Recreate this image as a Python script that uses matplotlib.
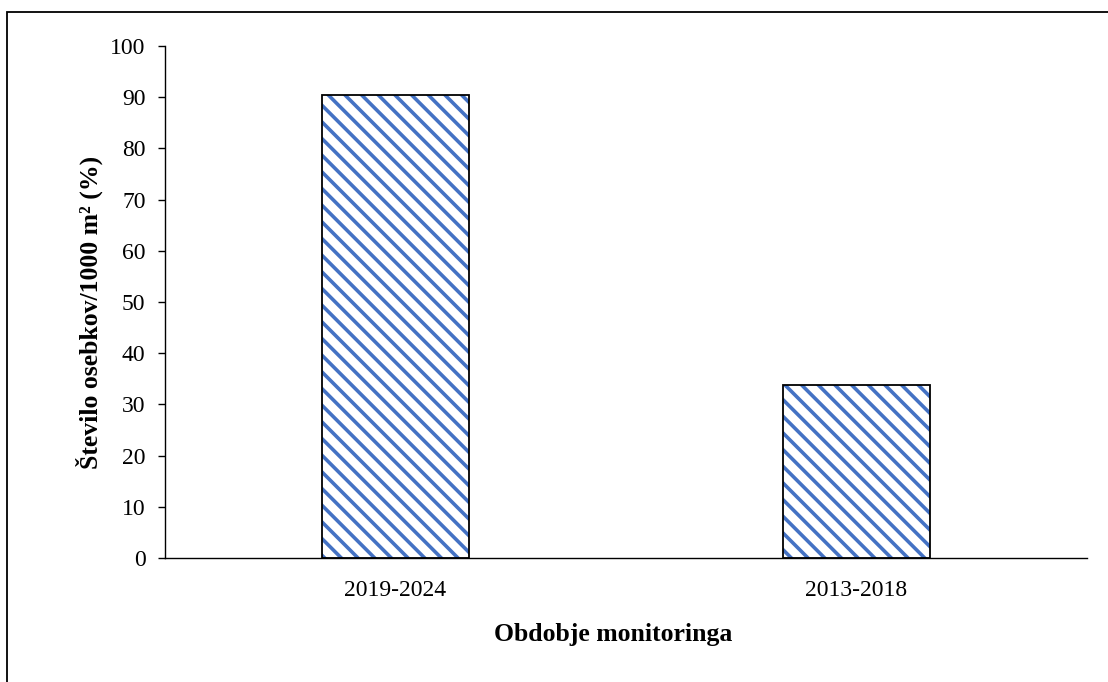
import matplotlib.pyplot as plt
from matplotlib.patches import Rectangle

# data
periods = ["2019-2024", "2013-2018"]
values = [90.5, 33.7]

plt.rcParams['font.family'] = ['Liberation Serif', 'DejaVu Serif']
plt.rcParams['hatch.linewidth'] = 2.6

fig = plt.figure(figsize=(11.08, 6.82), dpi=100)
ax = fig.add_axes([0.1489, 0.1818, 0.8321, 0.7508])

x = range(len(periods))
# hatch in blue, outline in black
ax.bar(x, values, width=0.317, color='white', edgecolor='#4472C4',
       hatch='\\\\', linewidth=0)
ax.bar(x, values, width=0.317, fill=False, edgecolor='black', linewidth=1.3)

ax.set_xlim(-0.5, 1.5)
ax.set_ylim(0, 100)
ax.set_yticks(range(0, 101, 10))
ax.set_xticks(list(x))
ax.set_xticklabels(periods)
ax.tick_params(axis='x', length=0, labelsize=17, pad=16)
ax.tick_params(axis='y', length=5, width=1, labelsize=17, pad=9)
for side in ['top', 'right']:
    ax.spines[side].set_visible(False)
ax.spines['left'].set_linewidth(1)
ax.spines['bottom'].set_linewidth(1)

ax.set_xlabel("Obdobje monitoringa", fontsize=18.5, fontweight='bold',
              labelpad=16, x=0.486)
ax.set_ylabel("Število osebkov/1000 m² (%)", fontsize=18.5, fontweight='bold',
              labelpad=5, y=0.48)

# outer frame
fig.patches.append(Rectangle((0.0063, -0.05), 1.1, 1.0324, transform=fig.transFigure,
                             fill=False, edgecolor='black', linewidth=1.3))

plt.savefig("out.png", dpi=100)
